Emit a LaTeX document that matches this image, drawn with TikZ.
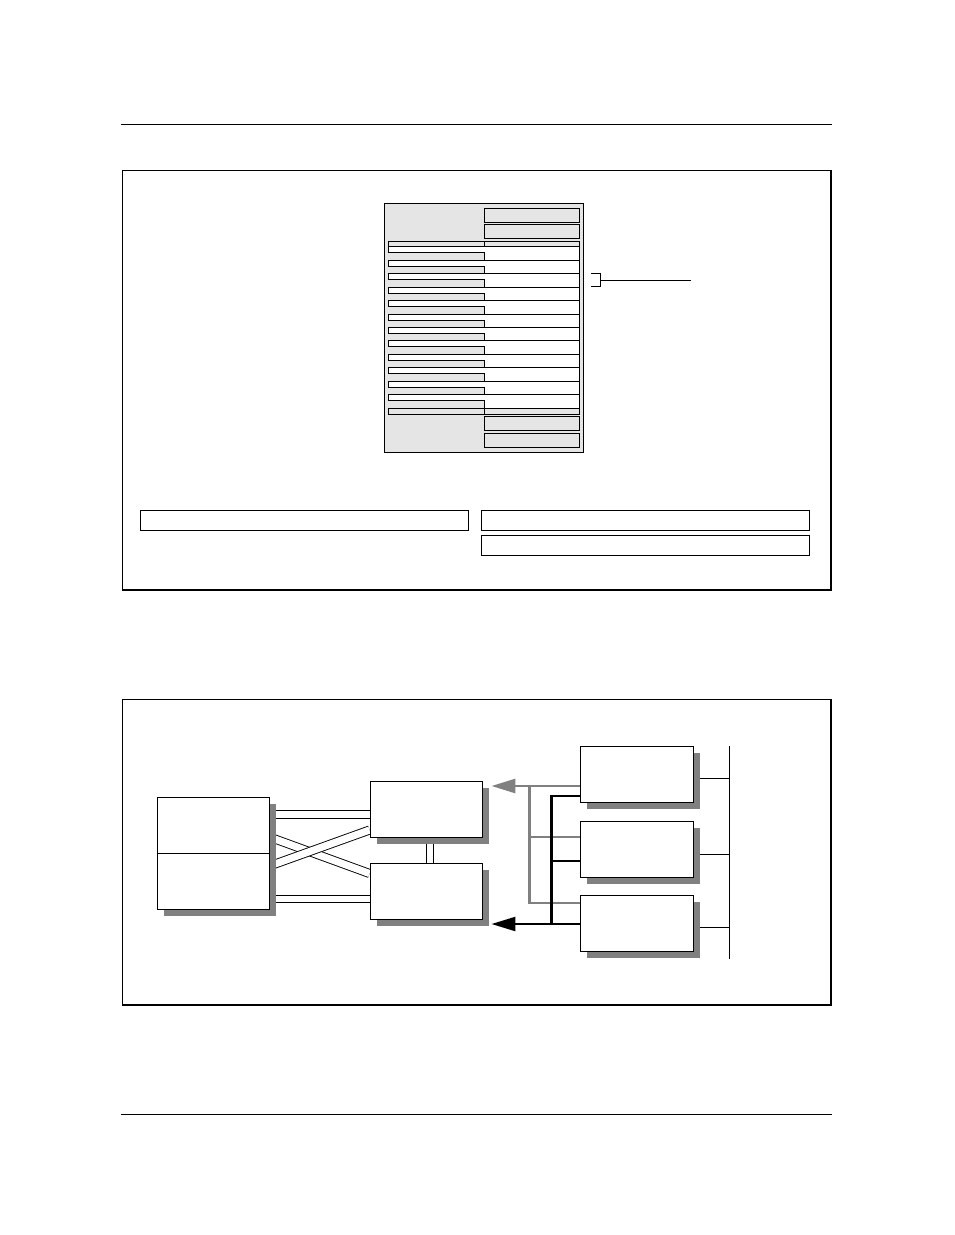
\documentclass[tikz,border=0pt]{standalone}
\usetikzlibrary{arrows.meta,shadows,backgrounds}
\begin{document}
\begin{tikzpicture}[x=1pt,y=-1pt,
  rule/.style={draw=black, line width=1pt},
  tblgray/.style={fill=black!10, draw=black, line width=1pt},
  tblwhite/.style={fill=white, draw=black, line width=1pt},
  unitbox/.style={draw=black, fill=white, line width=0.9pt, minimum width=112pt,
    minimum height=56pt, inner sep=0pt,
    drop shadow={shadow xshift=6.5pt, shadow yshift=-6.5pt, fill=black!50, opacity=1}},
  dbl/.style={draw=black, double=white, line width=0.9pt, double distance=6.6pt},
  grayconn/.style={draw=black!50, line width=2.7pt},
  blackconn/.style={draw=black, line width=2.3pt},
  busline/.style={draw=black, line width=1pt},
  tip/.style={-{Triangle[length=24pt,width=14pt]}}
]
\useasboundingbox (0,0) rectangle (954,1235);

% ---------- page rules and frames ----------
\draw[rule] (121,124.5) -- (832,124.5);
\draw[rule] (121,1114) -- (832,1114);
\draw[rule] (122,590) -- (122,170.5) -- (831,170.5);
\draw[draw=black, line width=2pt] (831,170) -- (831,590) -- (121.5,590);
\draw[rule] (122,1005) -- (122,699) -- (831,699);
\draw[draw=black, line width=2pt] (831,698.5) -- (831,1005) -- (121.5,1005);

% ---------- table ----------
\filldraw[tblgray] (384.5,203.5) rectangle (583,452);
\filldraw[tblgray] (484,208) rectangle (579,222);
\filldraw[tblgray] (484,224) rectangle (579,238);
\filldraw[tblgray] (388,241.7) rectangle (579,246.7);
\draw[rule] (484,241.7) -- (484,246.7);
\filldraw[tblwhite] (484,246.7) rectangle (579,408.34);
\foreach \i in {0,...,11} {
  \pgfmathsetmacro\yy{246.7+13.47*\i}
  \filldraw[tblwhite] (388,\yy) -- (579,\yy) -- (579,\yy+13.47) -- (484,\yy+13.47)
     -- (484,\yy+6) -- (388,\yy+6) -- cycle;
}
\filldraw[tblgray] (388,408.34) rectangle (579,414.3);
\draw[rule] (484,408.34) -- (484,414.3);
\filldraw[tblgray] (484,416.3) rectangle (579,430.3);
\filldraw[tblgray] (484,433.3) rectangle (579,447.3);

% bracket
\draw[rule] (591,273.3) -- (600.7,273.3) -- (600.7,286.5) -- (591,286.5);
\draw[rule] (600.7,280.3) -- (690.7,280.3);

% fields
\draw[rule] (140,510.3) rectangle (468,530.3);
\draw[rule] (481,510.3) rectangle (809,530.3);
\draw[rule] (481,535) rectangle (809,555);

% ---------- lower diagram ----------
\node[unitbox, minimum height=112pt] (L) at (213,853) {};
\draw[line width=0.9pt] (L.west) -- (L.east);
\node[unitbox] (A) at (426,809) {};
\node[unitbox] (B) at (426,891) {};
\node[unitbox, minimum width=113pt] (C) at (636.5,774) {};
\node[unitbox, minimum width=113pt] (D) at (636.5,849) {};
\node[unitbox, minimum width=113pt] (E) at (636.5,923) {};
\coordinate (busT) at (729,746);
\coordinate (busB) at (729,959);

\begin{scope}[on background layer]
  \draw[dbl] ([yshift=38.5pt]L.east) -- ([yshift=-5.5pt]A.west);
  \draw[dbl] ([yshift=-46pt]L.east) -- ([yshift=-8pt]B.west);
  \draw[dbl, double distance=7.2pt] ([yshift=16pt]L.east) -- ([yshift=17.5pt]B.west);
  \draw[dbl, double distance=7.2pt] ([yshift=-13pt]L.east) -- ([yshift=-21pt]A.west);
  \draw[dbl] ([xshift=4pt]A.south) -- ([xshift=4pt]B.north);

  \draw[busline] ([yshift=-4pt]C.east) -| (busT);
  \draw[busline] ([yshift=-5pt]D.east) -| (busT);
  \draw[busline] ([yshift=-4pt]E.east) -| (busB);

  \draw[grayconn] ([xshift=-50pt,yshift=-12pt]C.west) |- ([yshift=20pt]E.west);
  \draw[grayconn] ([xshift=-50pt,yshift=12pt]D.west) -- ([yshift=12pt]D.west);
  \draw[grayconn, tip] ([yshift=-12pt]C.west) -- ([xshift=9pt,yshift=23pt]A.east);

  \draw[blackconn] ([yshift=-22pt]C.west) -| ([xshift=-28pt,yshift=-1pt]E.west);
  \draw[blackconn] ([xshift=-28pt,yshift=-12pt]D.west) -- ([yshift=-12pt]D.west);
  \draw[blackconn, tip] ([yshift=-1pt]E.west) -- ([xshift=9pt,yshift=-33pt]B.east);
\end{scope}
\draw[busline] (busT) -- (busB);
\end{tikzpicture}
\end{document}
